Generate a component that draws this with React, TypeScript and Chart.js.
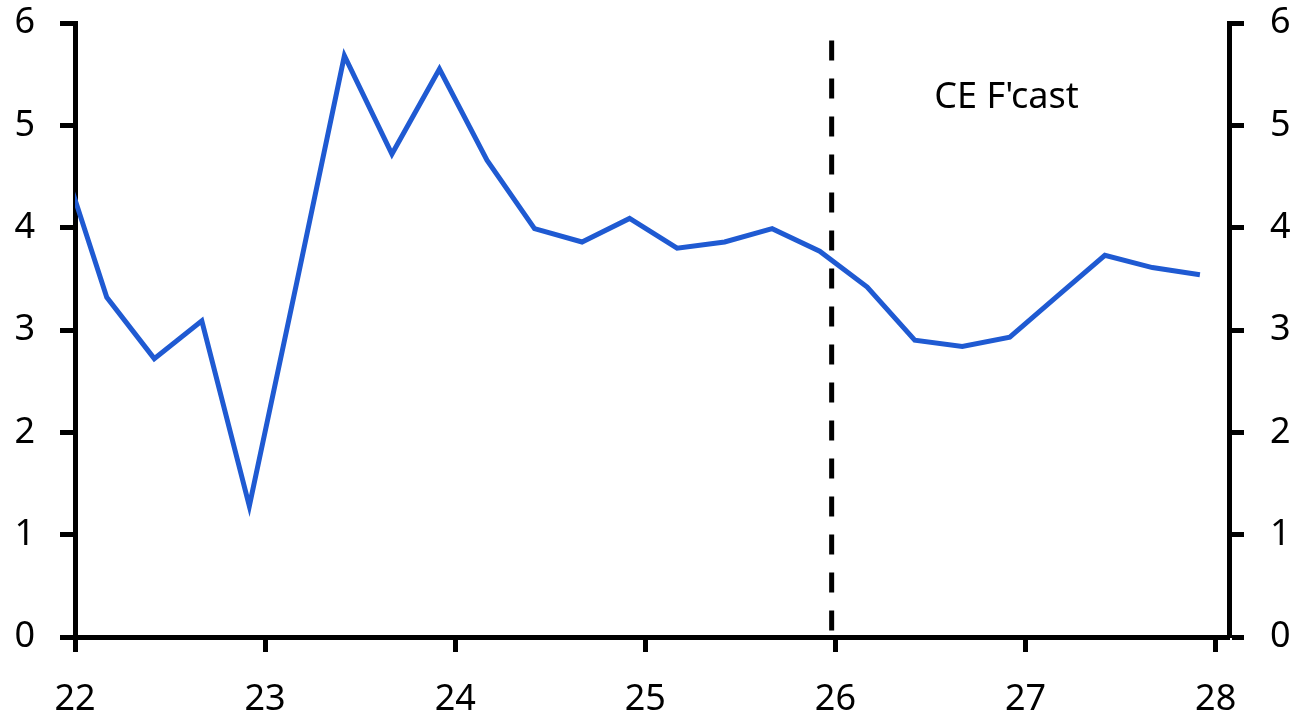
import React, { useEffect, useRef } from "react";
import { Chart, registerables } from "chart.js";

Chart.register(...registerables);

// Quarterly data positions (fractional years, 22 = 2022)
const xPositions = [
  21.917, 22.167, 22.417, 22.667, 22.917, 23.167, 23.417, 23.667, 23.917,
  24.167, 24.417, 24.667, 24.917, 25.167, 25.417, 25.667, 25.917,
  26.167, 26.417, 26.667, 26.917, 27.167, 27.417, 27.667, 27.917,
];
const seriesValues = [
  4.75, 3.32, 2.72, 3.09, 1.28, 3.47, 5.68, 4.72, 5.55,
  4.66, 3.99, 3.86, 4.09, 3.80, 3.86, 3.99, 3.77,
  3.42, 2.90, 2.84, 2.93, 3.33, 3.73, 3.61, 3.54,
];
const xTickValues = [22, 23, 24, 25, 26, 27, 28];
const yTickValues = [0, 1, 2, 3, 4, 5, 6];
const forecastStart = 25.98;
const forecastLineTop = 5.83;
const forecastLabel = "CE F'cast";
const forecastLabelPos = { x: 26.9, y: 5.27 };

const FONT = "'Noto Sans', 'Open Sans', sans-serif";
const FONT_SIZE = 36;
const BLUE = "#1F5AD2";

const forecastPlugin = {
  id: "forecastPlugin",
  afterDatasetsDraw(chart: any) {
    const { ctx, scales } = chart;
    const xs = scales.x;
    const ys = scales.y;
    const px = xs.getPixelForValue(forecastStart);
    ctx.save();
    ctx.strokeStyle = "#000";
    ctx.lineWidth = 5;
    ctx.setLineDash([20, 18]);
    ctx.beginPath();
    ctx.moveTo(px, ys.getPixelForValue(forecastLineTop));
    ctx.lineTo(px, ys.getPixelForValue(0));
    ctx.stroke();
    ctx.setLineDash([]);
    ctx.fillStyle = "#000";
    ctx.font = `${FONT_SIZE}px ${FONT}`;
    ctx.textAlign = "center";
    ctx.textBaseline = "middle";
    ctx.fillText(
      forecastLabel,
      xs.getPixelForValue(forecastLabelPos.x),
      ys.getPixelForValue(forecastLabelPos.y)
    );
    ctx.restore();
  },
};

export default function App() {
  const ref = useRef<HTMLCanvasElement | null>(null);
  useEffect(() => {
    if (!ref.current) return;
    const data = xPositions.map((x, i) => ({ x, y: seriesValues[i] }));
    const yAxisCommon = (width: number, padding: number) => ({
      type: "linear" as const,
      min: 0,
      max: 6,
      afterBuildTicks: (s: any) => {
        s.ticks = yTickValues.map((v) => ({ value: v }));
      },
      afterFit: (s: any) => {
        s.width = width;
        s.paddingTop = 0;
        s.paddingBottom = 0;
      },
      border: { display: true, color: "#000", width: 5 },
      grid: {
        display: true,
        drawOnChartArea: false,
        drawTicks: true,
        tickLength: 15,
        tickWidth: 5,
        tickColor: "#000",
      },
      ticks: {
        color: "#000",
        font: { family: FONT, size: FONT_SIZE },
        padding,
      },
    });
    const chart = new Chart(ref.current, {
      type: "line",
      data: {
        datasets: [
          {
            data,
            borderColor: BLUE,
            borderWidth: 5,
            pointRadius: 0,
            tension: 0,
            fill: false,
            clip: 0,
          } as any,
        ],
      },
      options: {
        animation: false,
        responsive: false,
        devicePixelRatio: 1,
        layout: { padding: { top: 23, left: 0, right: 0, bottom: 0 } },
        plugins: {
          legend: { display: false },
          tooltip: { enabled: false },
          title: { display: false },
        },
        scales: {
          x: {
            type: "linear",
            position: "bottom",
            min: 22,
            max: 28.07,
            afterBuildTicks: (s: any) => {
              s.ticks = xTickValues.map((v) => ({ value: v }));
            },
            afterFit: (s: any) => {
              s.height = 80;
              s.paddingLeft = 0;
              s.paddingRight = 0;
            },
            border: { display: true, color: "#000", width: 5 },
            grid: {
              display: true,
              drawOnChartArea: false,
              drawTicks: true,
              tickLength: 15,
              tickWidth: 5,
              tickColor: "#000",
            },
            ticks: {
              color: "#000",
              font: { family: FONT, size: FONT_SIZE },
              padding: 26,
              maxRotation: 0,
              autoSkip: false,
              callback: (v: any) => String(v),
            },
          },
          y: { ...yAxisCommon(75, 25), position: "left" },
          y2: { ...yAxisCommon(70, 26), position: "right" },
        } as any,
      },
      plugins: [forecastPlugin],
    });
    return () => chart.destroy();
  }, []);
  return (
    <div style={{ position: "fixed", left: 0, top: 0, width: 1299, height: 717, background: "#fff" }}>
      <canvas ref={ref} width={1299} height={717} style={{ width: 1299, height: 717, display: "block" }} />
    </div>
  );
}
